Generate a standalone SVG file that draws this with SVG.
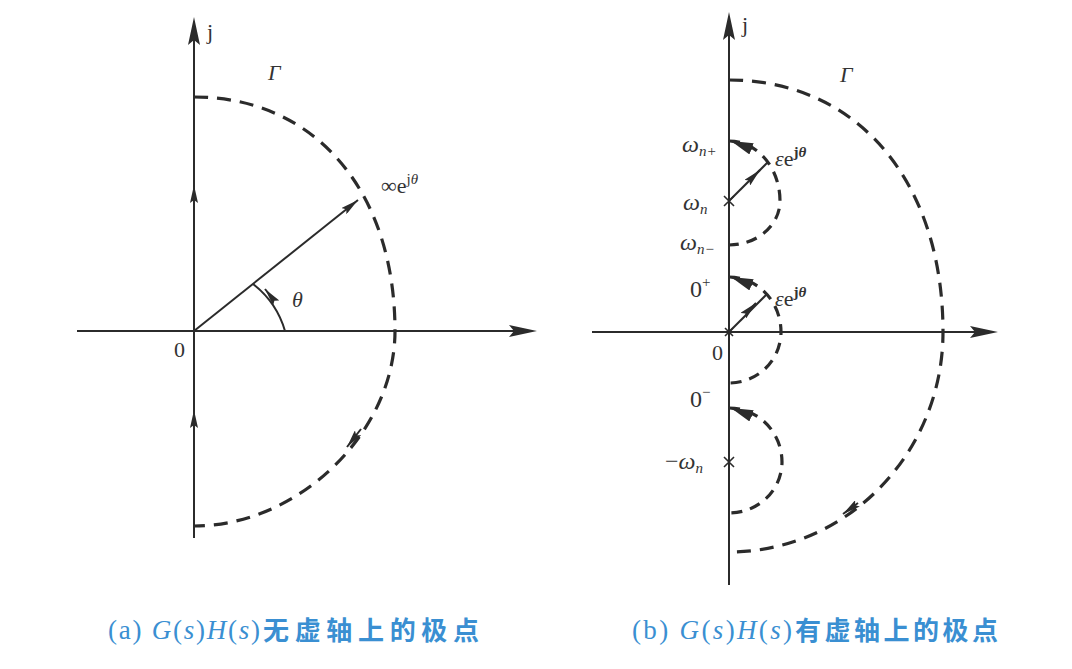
<svg xmlns="http://www.w3.org/2000/svg" width="1072" height="669" viewBox="0 0 1072 669">
<style>
.ax{stroke:#2b2b2b;stroke-width:2;fill:none}
.dash{stroke:#2b2b2b;stroke-width:3.2;fill:none;stroke-dasharray:14 9}
.sdash{stroke:#2b2b2b;stroke-width:3.2;fill:none;stroke-dasharray:11 8}
.vec{stroke:#2b2b2b;stroke-width:2;fill:none}
.xm{stroke:#2b2b2b;stroke-width:1.6;fill:none}
.lbl{font-family:"Liberation Serif",serif;fill:#333;font-size:22px}
.om{font-size:24px}
.it{font-style:italic}
.sub{font-size:15px}
.cap{font-family:"Liberation Serif",serif;fill:#3a8fd2;font-size:27px}
.capc{font-family:"Noto Sans CJK SC",sans-serif;fill:#3a8fd2;font-size:26px;font-weight:bold}
</style>
<defs>
<marker id="axh" markerUnits="userSpaceOnUse" viewBox="0 0 28 12" refX="18" refY="6" markerWidth="28" markerHeight="12" orient="auto"><path d="M0,0 L28,6 L0,12 L5,6 z" fill="#2b2b2b"/></marker>
<marker id="sh" markerUnits="userSpaceOnUse" viewBox="0 0 18 8" refX="18" refY="4" markerWidth="18" markerHeight="8" orient="auto"><path d="M0,0 L18,4 L0,8 L3,4 z" fill="#2b2b2b"/></marker>
<marker id="wd" markerUnits="userSpaceOnUse" viewBox="0 0 22 12" refX="22" refY="6" markerWidth="22" markerHeight="12" orient="auto"><path d="M0,0 L22,6 L0,12 z" fill="#2b2b2b"/></marker>
</defs>
<rect width="1072" height="669" fill="#ffffff"/>

<g id="connectors">
  <!-- panel (a) -->
  <path id="a-jaxis" class="ax" d="M194,538 L194,27" marker-end="url(#axh)"/>
  <path id="a-raxis" class="ax" d="M77,331 L527,331" marker-end="url(#axh)"/>
  <path class="ax" d="M194,200 L194,185" marker-end="url(#sh)"/>
  <path class="ax" d="M194,425 L194,410" marker-end="url(#sh)"/>
  <path id="a-gamma" class="dash" d="M194,97 C315,97 395,191 395,331 C395,432 299,526 194,526"/>
  <path class="vec" d="M361,429 L347,447" marker-end="url(#sh)"/>
  <path id="a-vector" class="vec" d="M194,331 L358,200" marker-end="url(#sh)"/>
  <path id="a-angle" class="vec" d="M285,331 A92,92 0 0 0 253,284"/>
  <path class="vec" d="M273,299 L265,289" marker-end="url(#sh)"/>

  <!-- panel (b) -->
  <path id="b-jaxis" class="ax" d="M729,585 L729,22" marker-end="url(#axh)"/>
  <path id="b-raxis" class="ax" d="M592,332 L988,332" marker-end="url(#axh)"/>
  <path id="b-gamma" class="dash" d="M729,80 C857,80 943,181 943,332 C943,453 847,552 729,552"/>
  <path class="vec" d="M858,503 L843,514" marker-end="url(#sh)"/>
  <path id="b-semi-wn" class="sdash" d="M729,141 A51,60 0 0 1 780,201 A51,44 0 0 1 729,245"/>
  <path id="b-semi-0" class="sdash" d="M729,277 A52,55 0 0 1 781,332 A52,51 0 0 1 729,383"/>
  <path id="b-semi-mwn" class="sdash" d="M729,408 A53,54 0 0 1 782,462 A53,51 0 0 1 729,513"/>
  <path class="vec" d="M752,149 L731,141" marker-end="url(#wd)"/>
  <path class="vec" d="M752,285 L731,277" marker-end="url(#wd)"/>
  <path class="vec" d="M752,416 L731,408" marker-end="url(#wd)"/>
  <path id="b-vec-wn" class="vec" d="M729,201 L768,162"/>
  <path class="vec" d="M750,180 L760,170" marker-end="url(#sh)"/>
  <path id="b-vec-0" class="vec" d="M729,332 L767,294"/>
  <path class="vec" d="M746,313 L756,303" marker-end="url(#sh)"/>
  <path class="xm" d="M724,196 L734,206 M734,196 L724,206"/>
  <path class="xm" d="M725,328 L733,336 M733,328 L725,336"/>
  <path class="xm" d="M724,457 L734,467 M734,457 L724,467"/>
</g>

<g id="labels-a">
  <text class="lbl" x="207" y="39">j</text>
  <text class="lbl it" x="268" y="80" font-size="24">Γ</text>
  <text class="lbl" x="381" y="193" font-size="23">∞e<tspan class="sub" dy="-9">j</tspan><tspan class="sub it">θ</tspan></text>
  <text class="lbl it" x="292" y="307" font-size="23">θ</text>
  <text class="lbl" x="174" y="357">0</text>
</g>

<g id="labels-b">
  <text class="lbl" x="742" y="32">j</text>
  <text class="lbl it" x="840" y="82" font-size="24">Γ</text>
  <text class="lbl om it" x="682" y="152">ω<tspan class="sub" dy="4">n+</tspan></text>
  <text class="lbl om it" x="683" y="210">ω<tspan class="sub" dy="4">n</tspan></text>
  <text class="lbl om it" x="680" y="250">ω<tspan class="sub" dy="4">n−</tspan></text>
  <text class="lbl" x="775" y="166" font-size="23"><tspan class="it">ε</tspan>e<tspan class="sub" dy="-9" font-weight="bold">j<tspan class="it">θ</tspan></tspan></text>
  <text class="lbl om" x="690" y="297">0<tspan class="sub" dy="-10">+</tspan></text>
  <text class="lbl" x="775" y="306" font-size="23"><tspan class="it">ε</tspan>e<tspan class="sub" dy="-9" font-weight="bold">j<tspan class="it">θ</tspan></tspan></text>
  <text class="lbl" x="712" y="360">0</text>
  <text class="lbl om" x="690" y="407">0<tspan class="sub" dy="-10">−</tspan></text>
  <text class="lbl om" x="665" y="469">−<tspan class="it">ω</tspan><tspan class="sub it" dy="4">n</tspan></text>
</g>

<g id="caption-a">
  <text class="cap" x="108" y="639" textLength="152" lengthAdjust="spacing">(a) <tspan class="it">G</tspan>(<tspan class="it">s</tspan>)<tspan class="it">H</tspan>(<tspan class="it">s</tspan>)</text>
  <text class="capc" x="263" y="640" textLength="216" lengthAdjust="spacing">无虚轴上的极点</text>
</g>
<g id="caption-b">
  <text class="cap" x="632" y="639" textLength="160" lengthAdjust="spacing">(b) <tspan class="it">G</tspan>(<tspan class="it">s</tspan>)<tspan class="it">H</tspan>(<tspan class="it">s</tspan>)</text>
  <text class="capc" x="795" y="640" textLength="203" lengthAdjust="spacing">有虚轴上的极点</text>
</g>
</svg>
